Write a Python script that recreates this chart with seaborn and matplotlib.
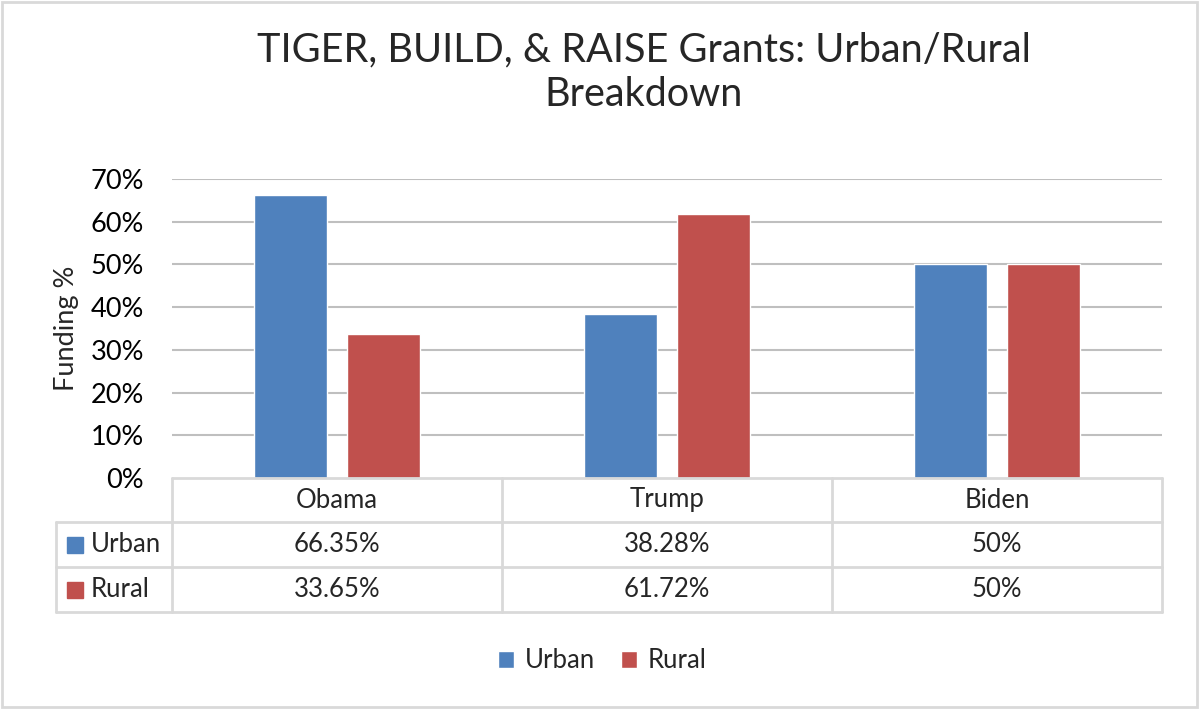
import pandas as pd
import matplotlib
matplotlib.use("Agg")
import matplotlib.pyplot as plt
import seaborn as sns
from matplotlib.patches import Patch, Rectangle
from matplotlib.lines import Line2D

# Data
administrations = ["Obama", "Trump", "Biden"]
urban_pct = [66.35, 38.28, 50.0]
rural_pct = [33.65, 61.72, 50.0]
series_names = ["Urban", "Rural"]
y_ticks = [0, 10, 20, 30, 40, 50, 60, 70]

colors = {"Urban": "#4F81BD", "Rural": "#C0504D"}
grid_gray = "#BFBFBF"
table_gray = "#D9D9D9"

df = pd.DataFrame({
    "admin": administrations * 2,
    "series": ["Urban"] * 3 + ["Rural"] * 3,
    "pct": urban_pct + rural_pct,
})

sns.set_style("white")
plt.rcParams["font.family"] = ["Lato", "DejaVu Sans"]

W, H = 1200, 710
fig = plt.figure(figsize=(12, 7.1), dpi=100)


def fx(px):
    return px / W


def fy(py):
    return 1 - py / H


# plot area in pixels
left, right, top, bottom = 172, 1162, 179, 478
ax = fig.add_axes([fx(left), fy(bottom), fx(right - left), fy(top) - fy(bottom)])

sns.barplot(data=df, x="admin", y="pct", hue="series", order=administrations,
            hue_order=series_names, palette=colors, width=0.564, gap=0.216,
            saturation=1, legend=False, ax=ax, zorder=3)

ax.set_ylim(0, 70)
ax.set_xlim(-0.5, 2.5)
ax.set_yticks(y_ticks)
ax.set_yticklabels([f"{t}%" for t in y_ticks], fontsize=19.5, color="#000000")
ax.tick_params(axis="y", length=0, pad=20)
ax.set_xticks([])
ax.set_xlabel("")
ax.set_ylabel("Funding %", fontsize=19.5)
ax.yaxis.set_label_coords(-0.094, 0.5)
for t in y_ticks[1:]:
    ax.axhline(t, color=grid_gray, lw=1.5, zorder=1)
for s in ax.spines.values():
    s.set_visible(False)

# data table below the plot
row_y = [478, 522, 567, 612]
col_x = [left, 502, 832, right]
label_left = 56
fs_table = 18.5


def hline(x0, x1, y):
    fig.add_artist(Line2D([fx(x0), fx(x1)], [fy(y), fy(y)], color=table_gray, lw=2))


def vline(x, y0, y1):
    fig.add_artist(Line2D([fx(x), fx(x)], [fy(y0), fy(y1)], color=table_gray, lw=2))


hline(left, right, row_y[0])
for y in row_y[1:]:
    hline(label_left, right, y)
for x in col_x:
    vline(x, row_y[0], row_y[-1])
vline(label_left, row_y[1], row_y[-1])

for i, name in enumerate(administrations):
    cx = (col_x[i] + col_x[i + 1]) / 2
    fig.text(fx(cx), fy((row_y[0] + row_y[1]) / 2), name, ha="center", va="center", fontsize=fs_table)
    fig.text(fx(cx), fy((row_y[1] + row_y[2]) / 2), f"{urban_pct[i]:g}%", ha="center", va="center", fontsize=fs_table)
    fig.text(fx(cx), fy((row_y[2] + row_y[3]) / 2), f"{rural_pct[i]:g}%", ha="center", va="center", fontsize=fs_table)

for r, name in enumerate(series_names):
    cy = (row_y[r + 1] + row_y[r + 2]) / 2
    fig.add_artist(Rectangle((fx(67), fy(cy + 8)), fx(16), fy(cy - 8) - fy(cy + 8),
                             color=colors[name]))
    fig.text(fx(91), fy(cy), name, ha="left", va="center", fontsize=fs_table)

# bottom legend
handles = [Patch(facecolor=colors[n], label=n) for n in series_names]
fig.legend(handles=handles, loc="center", bbox_to_anchor=(fx(602), fy(661)), ncol=2,
           frameon=False, fontsize=18.5, handlelength=0.65, handleheight=0.65,
           handletextpad=0.4, columnspacing=1.0)

# title
fig.text(fx(644), fy(72), "TIGER, BUILD, & RAISE Grants: Urban/Rural\nBreakdown",
         ha="center", va="center", fontsize=28.5, linespacing=1.25)

# chart border
fig.add_artist(Rectangle((fx(2), fy(707)), fx(1195), fy(2) - fy(707), fill=False,
                         edgecolor=table_gray, lw=2))

fig.savefig("out.png", dpi=100)
